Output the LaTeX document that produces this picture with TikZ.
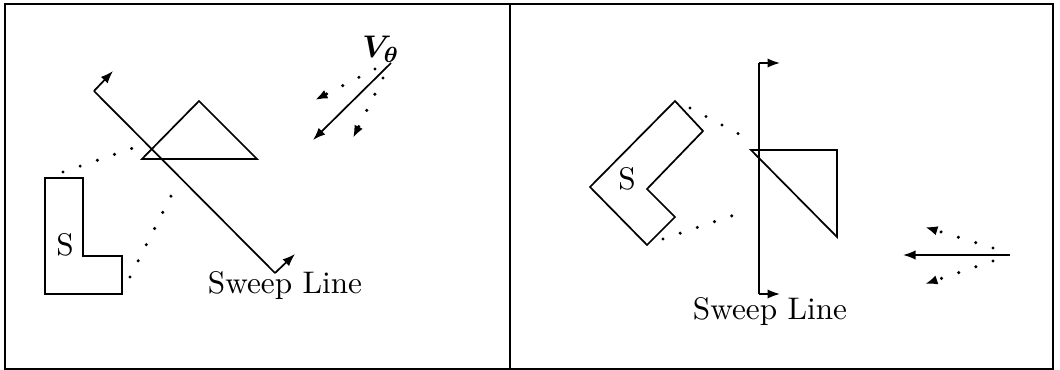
\documentclass[tikz,border=0pt]{standalone}
\usepackage{tikz}
\usepackage{amsmath,bm}
\usetikzlibrary{arrows.meta,positioning}

\begin{document}
\begin{tikzpicture}[
	x=0.32pt, y=-0.32pt,
	every node/.style={font=\normalsize},
	frame/.style={line width=0.65pt},
	outline/.style={line width=0.55pt, line join=miter},
	sweep/.style={line width=0.55pt},
	tip/.style={-{Latex[length=4pt,width=3pt]}, line width=0.55pt},
	dots/.style={line width=1.1pt, line cap=round, dash pattern=on 0pt off 5.8pt},
	dotarrow/.style={dots, -{Latex[length=4pt,width=3pt]}}
	]
	
	\useasboundingbox (0,0) rectangle (1060,370);
	
	% panels
	\draw[frame] (5,4) rectangle (510,369);
	\draw[frame] (510,4) rectangle (1053,369);
	
	% left panel
	\draw[outline] (45,178) -- (83,178) -- (83,256) -- (122,256) -- (122,294) -- (45,294) -- cycle;
	\node (SLeft) at (65,245) {S};
	\draw[outline] (142,159) -- (199,101) -- (257,159) -- cycle;
	
	\coordinate (SweepA) at (94,91);
	\coordinate (SweepB) at (275,273);
	\draw[sweep] (SweepA) -- (SweepB);
	\draw[tip] (SweepA) -- (113,71);
	\draw[tip] (SweepB) -- (295,254);
	\node (SweepLeft) at (285,286) {Sweep Line};
	
	\draw[dots] (63,172) -- (136,147);
	\draw[dots] (130,277) -- (172,194);
	
	\coordinate (VStart) at (391,63);
	\coordinate (VEnd) at (313,140);
	\draw[tip] (VStart) -- (VEnd);
	\node (VLabel) at (381,49) {$\bm{V_\theta}$};
	\draw[dotarrow] (375,69) -- (315,100);
	\draw[dotarrow] (383,78) -- (353,138);
	
	% right panel
	\draw[outline] (675,101) -- (703,131) -- (647,189) -- (675,217) -- (647,245) -- (590,187) -- cycle;
	\node (SRight) at (627,179) {S};
	\draw[outline] (751,150) -- (837,150) -- (837,237) -- cycle;
	
	\coordinate (SweepC) at (759,63);
	\coordinate (SweepD) at (759,294);
	\draw[sweep] (SweepC) -- (SweepD);
	\draw[tip] (SweepC) -- (780,63);
	\draw[tip] (SweepD) -- (780,294);
	\node (SweepRight) at (770,312) {Sweep Line};
	
	\draw[dots] (690,108) -- (754,142);
	\draw[dots] (663,239) -- (746,211);
	
	\coordinate (HStart) at (1010,255);
	\coordinate (HEnd) at (903,255);
	\draw[tip] (HStart) -- (HEnd);
	\draw[dotarrow] (993,248) -- (925,227);
	\draw[dotarrow] (993,261) -- (925,284);
	
\end{tikzpicture}
\end{document}
